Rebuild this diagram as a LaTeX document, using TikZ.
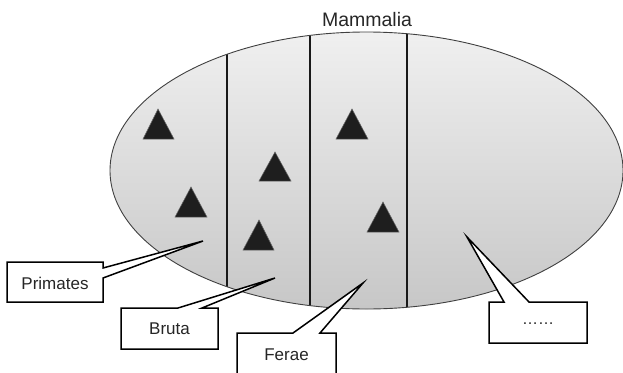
\documentclass[tikz,border=0pt]{standalone}
\usepackage{fontspec}
\setmainfont{Liberation Sans}
\usetikzlibrary{shapes.geometric}
\definecolor{ellborder}{HTML}{404040}
\definecolor{trifill}{HTML}{1E1E1E}
\tikzset{
  divider/.style={line width=2.8pt, black!90},
  tri/.style={fill=trifill, draw=black!60, line width=0.5pt},
  callout/.style={fill=white, draw=black, line width=1.5pt, line join=miter},
  lbl/.style={font=\fontsize{17}{20}\selectfont, inner sep=0pt, text=black!85},
}
\begin{document}
\begin{tikzpicture}[x=1pt,y=-1pt]
\useasboundingbox (0,0) rectangle (623,372);
% ellipse
\shade[top color=black!6, bottom color=black!22] (366.5,170.5) ellipse [x radius=256.5, y radius=138.5];
\begin{scope}
  \clip (366.5,170.5) ellipse [x radius=256.5, y radius=138.5];
  \draw[divider] (227,0) -- (227,372);
  \draw[divider] (310,0) -- (310,372);
  \draw[divider] (407,0) -- (407,372);
\end{scope}
\draw[ellborder, line width=0.9pt] (366.5,170.5) ellipse [x radius=256.5, y radius=138.5];
\node[lbl, font=\fontsize{19.5}{22}\selectfont, anchor=base] (mammalia) at (367,27) {Mammalia};
% triangles
\draw[tri] (158,109) -- (174,139) -- (143,139) -- cycle;
\draw[tri] (191,187) -- (207,217) -- (175,217) -- cycle;
\draw[tri] (275,152) -- (291,181) -- (259,181) -- cycle;
\draw[tri] (259,220) -- (274,250) -- (243,250) -- cycle;
\draw[tri] (352,109) -- (368,139) -- (336,139) -- cycle;
\draw[tri] (383,202) -- (399,232) -- (367,232) -- cycle;
% callout tips
\coordinate (tipP) at (203,241);
\coordinate (tipB) at (275,278);
\coordinate (tipF) at (363,283);
\coordinate (tipD) at (467,237);
% Primates
\draw[callout] (7,262) -- (103,262) -- (103,268) -- (tipP) -- (103,278) -- (103,302) -- (7,302) -- cycle;
\node[lbl] (primates) at (55,283) {Primates};
% Bruta
\draw[callout] (121,308) -- (178,308) -- (tipB) -- (202,308) -- (218,308) -- (218,349) -- (121,349) -- cycle;
\node[lbl] (bruta) at (169.5,329) {Bruta};
% Ferae
\draw[callout] (237,385) -- (237,333) -- (293,333) -- (tipF) -- (320,333) -- (336,333) -- (336,385);
\node[lbl] (ferae) at (286.5,355) {Ferae};
% dots
\draw[callout] (489,302) -- (504,302) -- (tipD) -- (529,302) -- (587,302) -- (587,343) -- (489,343) -- cycle;
\node[lbl, font=\fontsize{16}{20}\selectfont] (dots) at (538,324) {……};
\end{tikzpicture}
\end{document}
